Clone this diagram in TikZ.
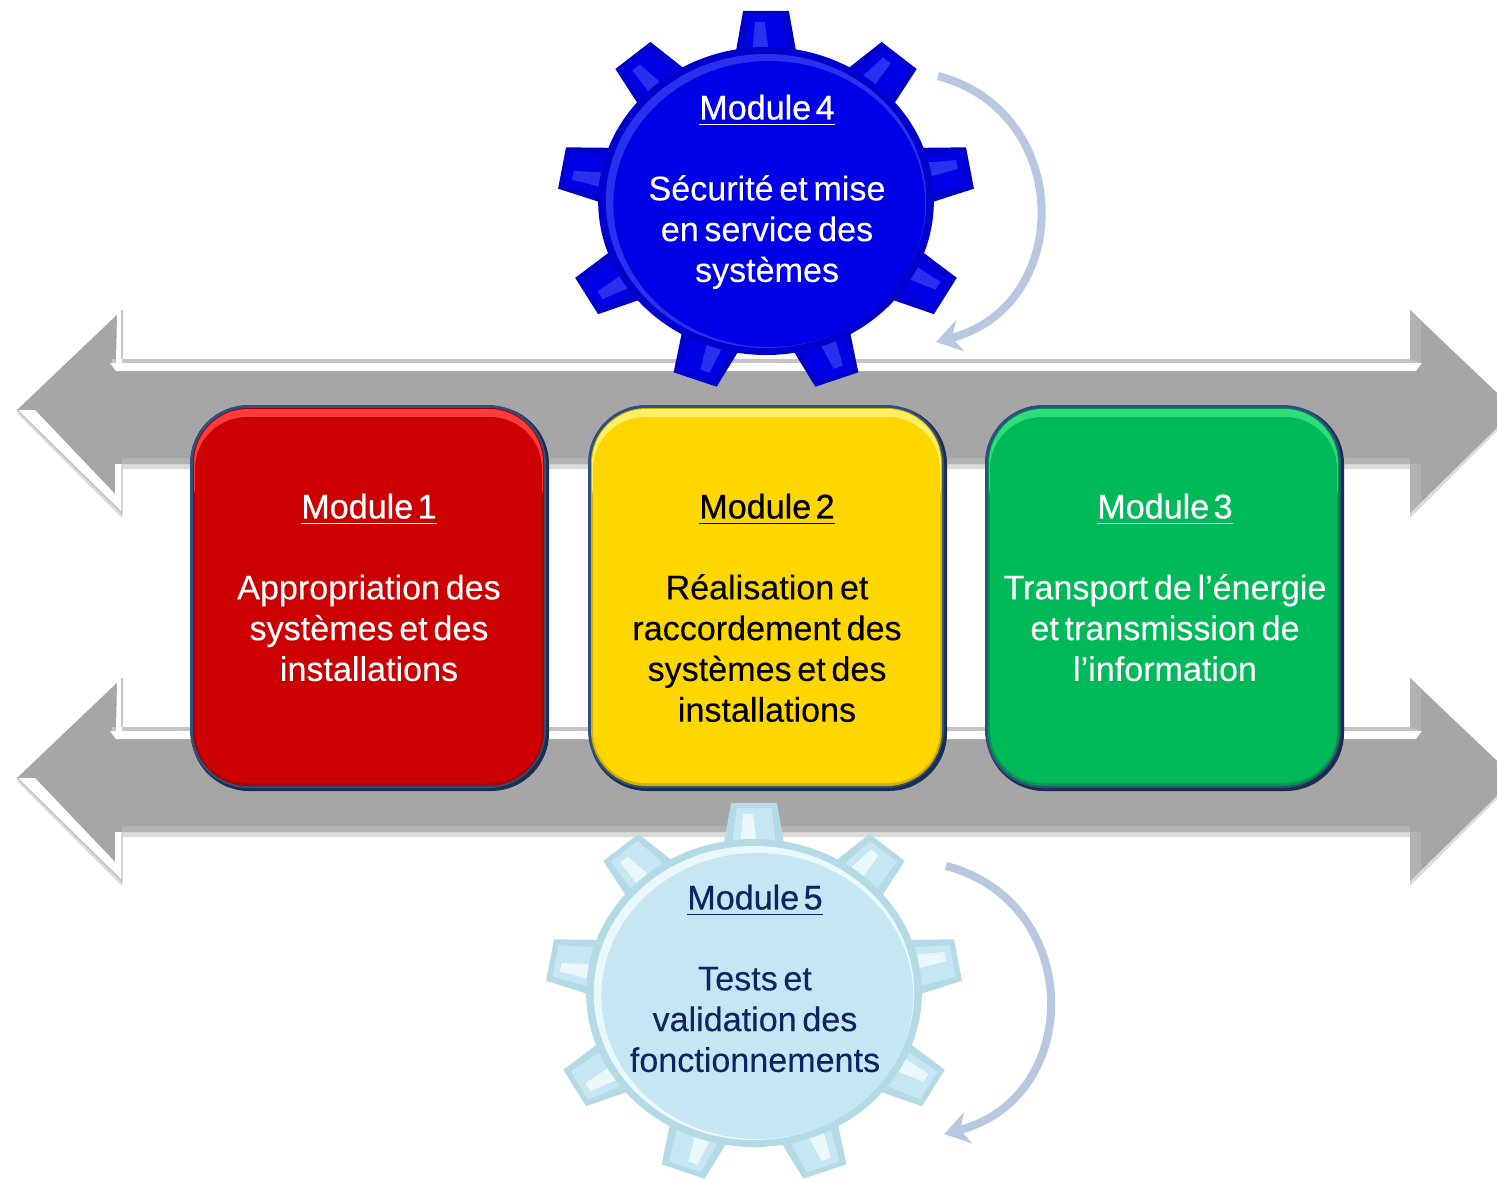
\documentclass[tikz,border=0pt]{standalone}
\usepackage{fontspec}
\setmainfont[FakeBold=0.2,WordSpace=0.6]{Liberation Sans}
\newfontfamily\titlefont[FakeBold=0.7,WordSpace=0.47]{Liberation Sans}
\usetikzlibrary{arrows.meta}

\definecolor{arrowgray}{HTML}{A6A6A6}
\definecolor{edgegray}{HTML}{C4C4C4}
\definecolor{facetgray}{HTML}{B2B2B2}
\definecolor{boxedge}{HTML}{2F4F7F}
\definecolor{boxshade}{HTML}{1C2E50}
\definecolor{redbox}{HTML}{CC0000}
\definecolor{redlight}{HTML}{FF3B3B}
\definecolor{yellowbox}{HTML}{FFD700}
\definecolor{yellowlight}{HTML}{FFEE66}
\definecolor{greenbox}{HTML}{00BA5A}
\definecolor{greenlight}{HTML}{30DC78}
\definecolor{gearblue}{HTML}{0000E6}
\definecolor{gearbluedark}{HTML}{0000CC}
\definecolor{gearbluelight}{HTML}{2A30EE}
\definecolor{gearpale}{HTML}{C5E6F2}
\definecolor{gearpaledark}{HTML}{B4DAE6}
\definecolor{gearpalelight}{HTML}{EAF8FC}
\definecolor{turnblue}{HTML}{B8C8E0}
\definecolor{navytext}{HTML}{0F2460}

\tikzset{
  boxtext/.style={align=center,font=\fontsize{9.7}{11.6}\selectfont,inner sep=0pt},
  turnarrow/.style={draw=turnblue,line width=2.3pt,-{Stealth[length=7pt,width=9pt]}}
}

\newcommand{\modulehead}[1]{{\titlefont\underline{#1}}\\[11.4pt]}

% one of the two wide grey arrows, #1 = y of its middle
\newcommand{\greyarrow}[1]{
  \begin{scope}[yshift=-#1*0.01cm]
    \fill[black!14] (17,3) -- (122,108) -- (122,59) -- (1410,59) -- (1410,108) -- (1515,3) -- cycle;
    \fill[arrowgray] (17,0) -- (122,-100) -- (122,-51) -- (1410,-51) -- (1410,-100) -- (1515,0)
      -- (1410,103) -- (1410,54) -- (122,54) -- (122,103) -- cycle;
    \fill[edgegray] (112,-51) -- (1420,-51) -- (1420,-47) -- (112,-47) -- cycle;
    \fill[white] (110,-47) -- (1422,-47) -- (1416,-39) -- (116,-39) -- cycle;
    \fill[white] (117,-97) -- (122,-100) -- (122,-47) -- (116,-47) -- cycle;
    \fill[white] (17,0) -- (35,0) -- (115,84) -- (115,54) -- (122,54) -- (122,103) -- cycle;
    \draw[edgegray,line width=0.4pt] (122,-100) -- (122,-51);
    \draw[edgegray,line width=0.4pt] (122,54) -- (122,103) -- (17,0);
    \fill[facetgray] (1410,-100) -- (1421,-88) -- (1421,-47) -- (1410,-51) -- cycle;
    \fill[facetgray] (1410,103) -- (1421,92) -- (1421,54) -- (1410,54) -- cycle;
    \fill[facetgray] (122,48) -- (1410,48) -- (1410,54) -- (122,54) -- cycle;
  \end{scope}
}

% rounded module box, #1 = left x, #2 = main colour, #3 = top glow
\newcommand{\modulebox}[3]{
  \fill[boxshade,rounded corners=58*0.01cm] (#1+1,406) rectangle ++(358,385);
  \fill[boxedge,rounded corners=58*0.01cm] (#1,405) rectangle ++(356,383);
  \fill[#2!82!black,rounded corners=55*0.01cm] (#1+3,408) rectangle ++(351,378);
  \fill[#3,rounded corners=54*0.01cm] (#1+4,409) rectangle ++(349,130);
  \fill[#2,rounded corners=52*0.01cm] (#1+5,417) rectangle ++(347,366);
}

% gear, #1 = centre, #2 body colour, #3 shaded side, #4 bevel
\newcommand{\gearwheel}[4]{
  \begin{scope}[shift={(#1)},xscale=1.09]
    \foreach \a in {90,50,10,-30,-70,-110,-150,170,130}{
      \begin{scope}[rotate=\a]
        \fill[#3] (135,-30) -- (190,-21) -- (190,21) -- (135,30) -- cycle;
        \fill[#2] (140,-21) -- (185,-16) -- (185,16) -- (140,21) -- cycle;
        \fill[#4] (145,-13) -- (179,-10) -- (179,-1) -- (145,3) -- cycle;
      \end{scope}
    }
    \fill[#3] (0,0) circle (154);
    \fill[#4] (0,0) circle (147);
    \fill[#2] (3,3) circle (143);
  \end{scope}
}

\begin{document}
\begin{tikzpicture}[x=0.01cm,y=-0.01cm]
  \useasboundingbox (0,0) rectangle (1497,1179);
  \begin{scope}
    \clip (0,0) rectangle (1497,1179);
    \greyarrow{410}
    \greyarrow{778}

    \modulebox{190}{redbox}{redlight}
    \modulebox{588}{yellowbox}{yellowlight}
    \modulebox{985}{greenbox}{greenlight}

    \gearwheel{766,201}{gearblue}{gearbluedark}{gearbluelight}
    \gearwheel{754,993}{gearpale}{gearpaledark}{gearpalelight}
  \end{scope}

  \node[boxtext,white,anchor=north] (m1) at (369,493) {\modulehead{Module 1}Appropriation des\\systèmes et des\\installations};
  \node[boxtext,black,anchor=north] (m2) at (767,493) {\modulehead{Module 2}Réalisation et\\raccordement des\\systèmes et des\\installations};
  \node[boxtext,white,anchor=north] (m3) at (1165,493) {\modulehead{Module 3}Transport de l’énergie\\et transmission de\\l’information};
  \node[boxtext,white,anchor=north] (m4) at (767,94) {\modulehead{Module 4}Sécurité et mise\\en service des\\systèmes};
  \node[boxtext,navytext,anchor=north] (m5) at (755,884) {\modulehead{Module 5}Tests et\\validation des\\fonctionnements};

  \coordinate (t4a) at (938,76);
  \coordinate (t4b) at (936,342);
  \coordinate (t5a) at (946,866);
  \coordinate (t5b) at (944,1134);
  \draw[turnarrow] (t4a) .. controls (1074,112) and (1074,306) .. (t4b);
  \draw[turnarrow] (t5a) .. controls (1084,902) and (1084,1098) .. (t5b);
\end{tikzpicture}
\end{document}
